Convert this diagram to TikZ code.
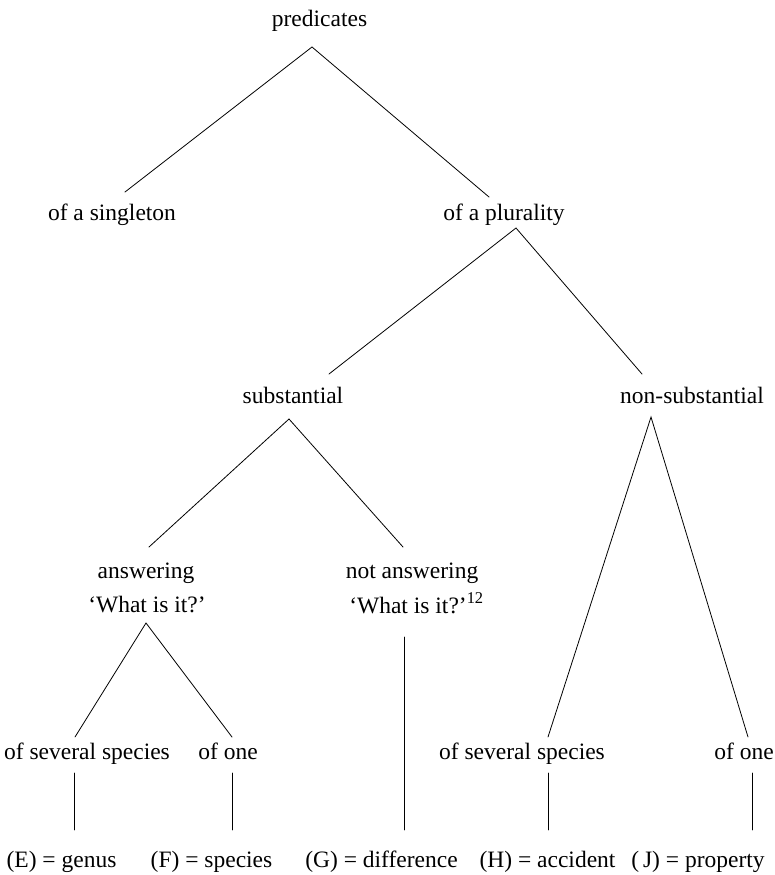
\documentclass[tikz,border=0pt]{standalone}
\usepackage{fontspec}
\setmainfont{Liberation Serif}
\usetikzlibrary{calc}

\tikzset{
  label/.style={anchor=base, inner sep=0pt, font=\fontsize{23.5}{28}\selectfont},
  branch/.style={line width=0.8pt, line cap=round}
}

\begin{document}
\begin{tikzpicture}[x=1pt, y=-1pt]
\useasboundingbox (0,0) rectangle (775,875);

% ---- labels (placed at their baselines) ----
\node[label] (pred)  at (319.5,27)  {predicates};
\node[label] (sing)  at (112,220)   {of a singleton};
\node[label] (plur)  at (504,220)   {of a plurality};
\node[label] (subs)  at (293,403)   {substantial};
\node[label] (nons)  at (692,403)   {non-substantial};
\node[label] (ansA)  at (146,578)   {answering};
\node[label] (ansB)  at (147,612)   {‘What is it?’};
\node[label] (nansA) at (412,578)   {not answering};
\node[label] (nansB) at (416.5,613) {‘What is it?’\textsuperscript{12}};
\node[label] (sevA)  at (87,759)    {of several species};
\node[label] (oneA)  at (228,759)   {of one};
\node[label] (sevB)  at (522,759)   {of several species};
\node[label] (oneB)  at (744,759)   {of one};
\node[label] (genus) at (61.5,867)  {(E) = genus};
\node[label] (spec)  at (211.5,867) {(F) = species};
\node[label] (diff)  at (381.5,867) {(G) = difference};
\node[label] (acc)   at (547.5,867) {(H) = accident};
\node[label] (prop)  at (698,867)   {(\,J) = property};

% ---- branch points below and above each label ----
\coordinate (pred-s)  at ($(pred.base)+(-7.5,20)$);
\coordinate (sing-n)  at ($(sing.base)+(13,-28)$);
\coordinate (plur-n)  at ($(plur.base)+(-15,-23)$);
\coordinate (plur-s)  at ($(plur.base)+(12,8)$);
\coordinate (subs-n)  at ($(subs.base)+(36,-29)$);
\coordinate (subs-s)  at ($(subs.base)+(-4,16)$);
\coordinate (nons-n)  at ($(nons.base)+(-50,-29)$);
\coordinate (nons-s)  at ($(nons.base)+(-41,14)$);
\coordinate (ans-n)   at ($(ansA.base)+(3,-31)$);
\coordinate (ans-s)   at ($(ansB.base)+(-1,11)$);
\coordinate (nans-n)  at ($(nansA.base)+(-9,-31)$);
\coordinate (nans-s)  at ($(nansB.base)+(-12.5,24)$);
\coordinate (sevA-n)  at ($(sevA.base)+(-12,-22)$);
\coordinate (sevA-s)  at ($(sevA.base)+(-13,14)$);
\coordinate (oneA-n)  at ($(oneA.base)+(4,-22)$);
\coordinate (oneA-s)  at ($(oneA.base)+(4,14)$);
\coordinate (sevB-n)  at ($(sevB.base)+(26,-22)$);
\coordinate (sevB-s)  at ($(sevB.base)+(26,14)$);
\coordinate (oneB-n)  at ($(oneB.base)+(4,-22)$);
\coordinate (oneB-s)  at ($(oneB.base)+(8,14)$);
\coordinate (genus-n) at ($(genus.base)+(12.5,-37)$);
\coordinate (spec-n)  at ($(spec.base)+(20.5,-37)$);
\coordinate (diff-n)  at ($(diff.base)+(22.5,-37)$);
\coordinate (acc-n)   at ($(acc.base)+(0.5,-37)$);
\coordinate (prop-n)  at ($(prop.base)+(54,-37)$);

% ---- tree ----
\draw[branch] (sing-n) -- (pred-s) -- (plur-n);
\draw[branch] (subs-n) -- (plur-s) -- (nons-n);
\draw[branch] (ans-n)  -- (subs-s) -- (nans-n);
\draw[branch] (sevB-n) -- (nons-s) -- (oneB-n);
\draw[branch] (sevA-n) -- (ans-s)  -- (oneA-n);
\draw[branch] (nans-s) -- (diff-n);
\draw[branch] (sevA-s) -- (genus-n);
\draw[branch] (oneA-s) -- (spec-n);
\draw[branch] (sevB-s) -- (acc-n);
\draw[branch] (oneB-s) -- (prop-n);
\end{tikzpicture}
\end{document}
